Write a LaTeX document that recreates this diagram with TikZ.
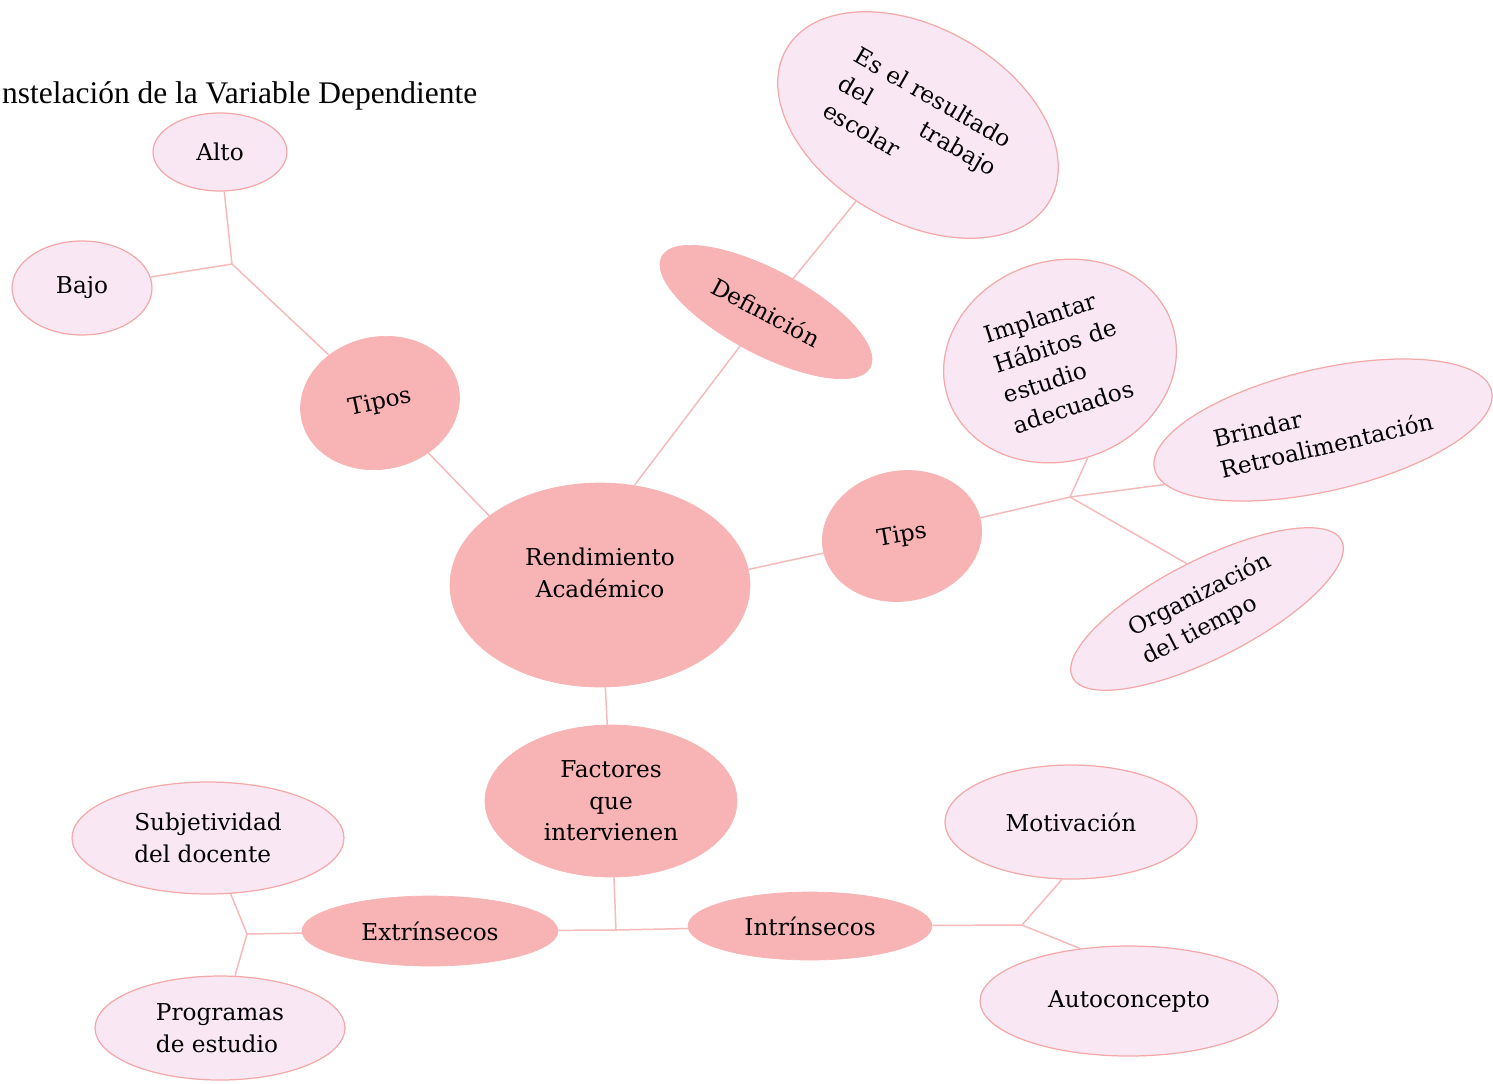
\documentclass[tikz,border=0pt]{standalone}
\usepackage{fontspec}
\setmainfont{DejaVu Serif}
\newfontfamily\titlefont{Liberation Serif}
\usetikzlibrary{shapes.geometric}
\definecolor{rosa}{RGB}{248,180,181}
\definecolor{rosaclaro}{RGB}{249,232,243}
\definecolor{borde}{RGB}{244,168,170}
\definecolor{linea}{RGB}{246,186,186}

\begin{document}
\begin{tikzpicture}[x=0.02cm, y=-0.02cm,
    main/.style={ellipse, fill=rosa, draw=rosa, inner sep=0pt, align=center, font=\fontsize{13.2}{18}\selectfont},
    sub/.style={ellipse, fill=rosaclaro, draw=borde, line width=0.7pt, inner sep=0pt, align=left, font=\fontsize{13.2}{18}\selectfont},
    con/.style={draw=linea, line width=0.85pt}]
    \useasboundingbox (0,0) rectangle (1493,1083);

    \node[anchor=base west, font=\titlefont\fontsize{17.9}{21}\selectfont] (0) at (-4,103) {nstelación de la Variable Dependiente};

    \node[main, minimum width=6cm, minimum height=4.08cm, text depth=0.5cm] (1) at (600,585) {Rendimiento\\Académico};

    % Tipos
    \node[main, minimum width=3.2cm, minimum height=2.64cm, rotate=12] (2) at (380,403) {Tipos};
    \node[sub, minimum width=2.68cm, minimum height=1.56cm] (3) at (220,152) {Alto};
    \node[sub, minimum width=2.8cm, minimum height=1.88cm] (4) at (82,288) {Bajo};
    \coordinate (a) at (232,264);

    % Definicion
    \node[main, minimum width=4.72cm, minimum height=1.68cm, rotate=-28] (5) at (766,312) {Definición};
    \node[sub, minimum width=6.08cm, minimum height=3.88cm, rotate=-30, text width=3.55cm] (6) at (918,125)
    {Es el resultado\\ del\hfill trabajo\\ escolar};

    % Tips
    \node[main, minimum width=3.2cm, minimum height=2.6cm, rotate=10] (7) at (902,536) {Tips};
    \node[sub, minimum width=4.72cm, minimum height=4cm, rotate=18] (8) at (1060,361) {Implantar\\Hábitos de\\estudio\\adecuados};
    \node[sub, minimum width=6.92cm, minimum height=2.44cm, rotate=13] (9) at (1323,430) {Brindar\\Retroalimentación};
    \node[sub, minimum width=6.04cm, minimum height=1.96cm, rotate=27] (10) at (1207,609) {Organización\\del tiempo};
    \coordinate (b) at (1070,497);

    % Factores
    \node[main, minimum width=5.04cm, minimum height=3.04cm] (11) at (611,801) {Factores\\que\\intervienen};
    \node[main, minimum width=5.12cm, minimum height=1.4cm] (12) at (430,931) {Extrínsecos};
    \node[main, minimum width=4.88cm, minimum height=1.36cm] (13) at (810,926) {Intrínsecos};
    \node[sub, minimum width=5.44cm, minimum height=2.24cm] (14) at (208,838) {Subjetividad\\del docente};
    \node[sub, minimum width=5cm, minimum height=2.08cm] (15) at (220,1028) {Programas\\de estudio};
    \node[sub, minimum width=5.04cm, minimum height=2.28cm] (16) at (1071,822) {Motivación};
    \node[sub, minimum width=5.96cm, minimum height=2.2cm] (17) at (1129,1001) {Autoconcepto};
    \coordinate (c) at (616,930);
    \coordinate (d) at (247,934);
    \coordinate (e) at (1022,925);

    \draw[con] (1.148) -- (2);
    \draw[con] (2) -- (a);
    \draw[con] (3) -- (a);
    \draw[con] (4) -- (a);
    \draw[con] (1.71) -- (5);
    \draw[con] (5) -- (6);
    \draw[con] (1.6) -- (7);
    \draw[con] (7) -- (b);
    \draw[con] (b) -- (9.186);
    \draw[con] (b) -- (8.-92);
    \draw[con] (b) -- (10.87);
    \draw[con] (1.-87) -- (11);
    \draw[con] (11) -- (c);
    \draw[con] (c) -- (12);
    \draw[con] (c) -- (13);
    \draw[con] (12) -- (d);
    \draw[con] (d) -- (14);
    \draw[con] (d) -- (15);
    \draw[con] (13) -- (e);
    \draw[con] (e) -- (16.-99);
    \draw[con] (e) -- (17.133);
\end{tikzpicture}
\end{document}
